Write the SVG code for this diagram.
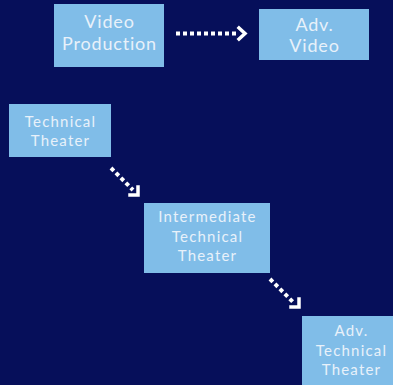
<svg xmlns="http://www.w3.org/2000/svg" width="393" height="385" viewBox="0 0 393 385">
<defs>
<style>
.box{fill:#80bde8}
.t{font-family:Lato,"Noto Sans","Liberation Sans",sans-serif;fill:#e8f1fa;text-anchor:middle}
.l{font-size:18px;letter-spacing:0.8px}
.s{font-size:15px;letter-spacing:1.2px}
.dot{fill:none;stroke:#ffffff;stroke-width:4;stroke-dasharray:4 3}
.head{fill:none;stroke:#ffffff;stroke-width:3.5;stroke-linecap:square;stroke-linejoin:miter}
</style>
</defs>
<rect width="393" height="385" fill="#060f5a"/>
<g id="video-production">
<rect class="box" x="54" y="4" width="110" height="63"/>
<text class="t l" x="109.5" y="28">Video</text>
<text class="t l" x="109.5" y="50">Production</text>
</g>
<g id="adv-video">
<rect class="box" x="259" y="9" width="110" height="51"/>
<text class="t l" x="314.5" y="31">Adv.</text>
<text class="t l" x="314.5" y="52">Video</text>
</g>
<g id="technical-theater">
<rect class="box" x="9" y="104" width="102" height="53"/>
<text class="t s" x="60.5" y="127">Technical</text>
<text class="t s" x="60.5" y="146">Theater</text>
</g>
<g id="intermediate-technical-theater">
<rect class="box" x="144" y="203" width="126" height="70"/>
<text class="t s" x="207.5" y="222">Intermediate</text>
<text class="t s" x="207.5" y="242">Technical</text>
<text class="t s" x="207.5" y="261">Theater</text>
</g>
<g id="adv-technical-theater">
<rect class="box" x="302" y="316" width="100" height="69"/>
<text class="t s" x="351.5" y="336">Adv.</text>
<text class="t s" x="351.5" y="356">Technical</text>
<text class="t s" x="351.5" y="375">Theater</text>
</g>
<g id="connectors">
<line class="dot" x1="176" y1="33.5" x2="238" y2="33.5"/>
<polyline class="head" points="239,28 245,33.5 239,39"/>
<line class="dot" x1="111" y1="168" x2="133" y2="190"/>
<polyline class="head" points="138,187 138,195 130,195"/>
<line class="dot" x1="270" y1="279" x2="293" y2="302"/>
<polyline class="head" points="299,299 299,307 291,307"/>
</g>
</svg>
